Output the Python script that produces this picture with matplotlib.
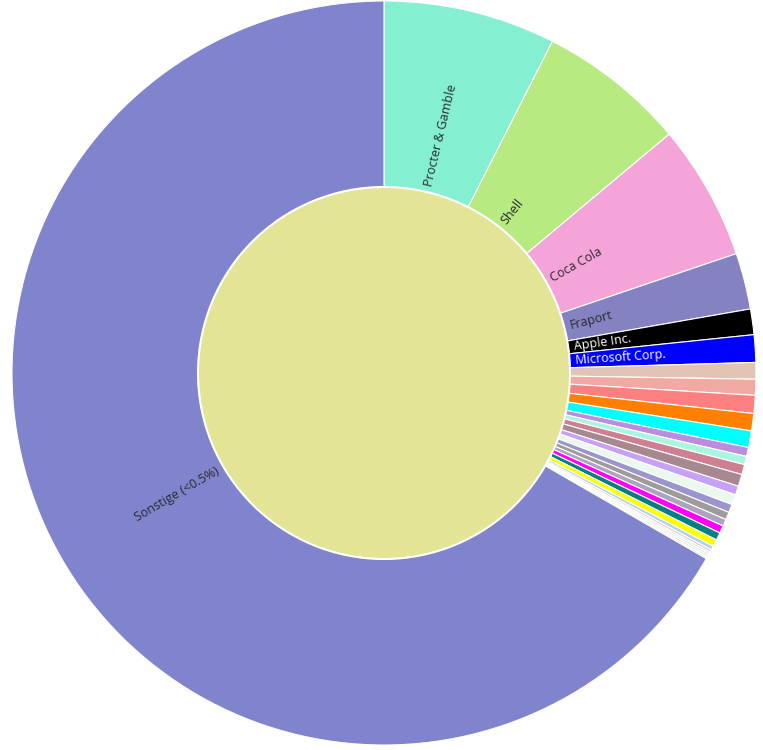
import numpy as np
import matplotlib
matplotlib.use("Agg")
import matplotlib.pyplot as plt

plt.rcParams['font.family'] = ['Open Sans', 'DejaVu Sans']

# outer ring: share in percent (clockwise from 12 o'clock)
names = ['Procter & Gamble', 'Shell', 'Coca Cola', 'Fraport', 'Apple Inc.', 'Microsoft Corp.',
         '', '', '', '', '', '', '', '', '', '', '', '', '', '', '', '', '', '', '', '', '', '', '',
         'Sonstige (<0.5%)']
shares = [7.47, 6.42, 5.89, 2.44, 1.11, 1.19,
          0.72, 0.69, 0.78, 0.75, 0.72,
          0.39, 0.36, 0.44, 0.52, 0.39, 0.44, 0.36, 0.33, 0.30, 0.33, 0.33, 0.31,
          0.17, 0.11, 0.08, 0.08, 0.08, 0.08,
          66.61]
colors = ['#84f0d1', '#b7ea80', '#f4a4d8', '#8482c0', '#000000', '#0000ff',
          '#e2c4b4', '#f0aaa3', '#fd8080', '#ff8000', '#00ffff',
          '#b98ee0', '#aaf5e0', '#cf8090', '#a88890', '#c7a0f8', '#eaf8ee', '#9c94cc',
          '#a09a9a', '#aaa4c0', '#ff00ff', '#008080', '#ffff00',
          '#a8d4f0', '#f8c0c8', '#b8f0c0', '#c0e0f8', '#f8d0e0', '#e0f0f0',
          '#7f84cd']
label_colors = {'Apple Inc.': 'white', 'Microsoft Corp.': 'white'}

W, H = 763, 750
cx, cy = 384, 373
r_out, r_in = 372, 186

fig = plt.figure(figsize=(W / 100, H / 100), dpi=100)
ax = fig.add_axes([0, 0, 1, 1])

ax.pie(shares, radius=r_out, startangle=90, counterclock=False, colors=colors,
       wedgeprops=dict(width=r_out - r_in, edgecolor='white', linewidth=0.8))
ax.pie([1], radius=r_in, colors=['#e3e495'],
       wedgeprops=dict(edgecolor='white', linewidth=1.5))

# pie() sets its own limits, so fix them afterwards (1 unit = 1 pixel)
ax.set_xlim(-cx, W - cx)
ax.set_ylim(-(H - cy), cy)
ax.set_aspect('equal')
ax.axis('off')

# radial labels starting at the inner edge
cum = np.cumsum(shares)
mid = (cum - np.array(shares) / 2) / 100 * 360   # degrees clockwise from top
for name, m in zip(names, mid):
    if not name:
        continue
    theta = np.radians(90 - m)
    r0 = r_in + 6
    x, y = r0 * np.cos(theta), r0 * np.sin(theta)
    rot = 90 - m
    ha = 'left'
    if m > 180:
        rot += 180
        ha = 'right'
    ax.text(x, y, name, rotation=rot, rotation_mode='anchor', ha=ha, va='center',
            fontsize=9, color=label_colors.get(name, '#2a2a2a'))

fig.savefig('out.png', dpi=100)
